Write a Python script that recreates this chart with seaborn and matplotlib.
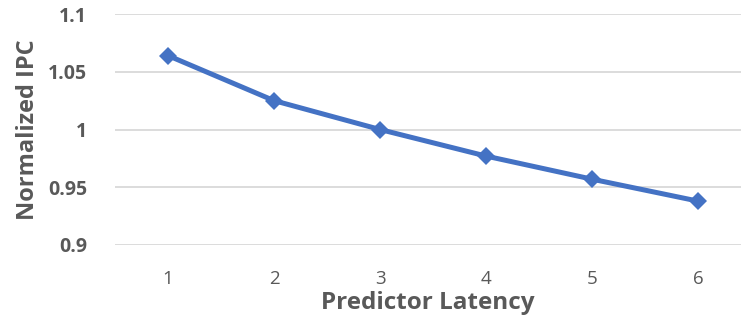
import matplotlib
matplotlib.use("Agg")
import matplotlib.pyplot as plt
import seaborn as sns
import pandas as pd

latency = [1, 2, 3, 4, 5, 6]
normalized_ipc = [1.064, 1.025, 1.000, 0.977, 0.957, 0.938]
y_ticks = [0.9, 0.95, 1.0, 1.05, 1.1]
y_tick_labels = ["0.9", "0.95", "1", "1.05", "1.1"]

df = pd.DataFrame({"Predictor Latency": latency, "Normalized IPC": normalized_ipc})

sns.set_theme(style="white")
plt.rcParams["font.family"] = ["Open Sans", "DejaVu Sans"]

fig = plt.figure(figsize=(7.41, 3.24), dpi=100)
ax = fig.add_axes([115/741, 1 - 245/324, 1 - 115/741, (245 - 14)/324])

sns.lineplot(data=df, x="Predictor Latency", y="Normalized IPC", ax=ax,
             color="#4472C4", linewidth=3.6, marker="D", markersize=9.5,
             markeredgewidth=0, zorder=3)

ax.set_ylim(0.9, 1.1)
ax.set_xlim(0.5, 6.5 - 10/106)
ax.set_yticks(y_ticks)
ax.set_yticklabels(y_tick_labels)
ax.set_xticks(latency)
ax.set_xticklabels([str(v) for v in latency])
ax.yaxis.grid(True, color="#D9D9D9", linewidth=1.3, zorder=0)
ax.xaxis.grid(False)
for s in ax.spines.values():
    s.set_visible(False)
ax.tick_params(axis="both", length=0)
ax.tick_params(axis="y", pad=20, labelsize=14, labelcolor="#595959")
ax.tick_params(axis="x", pad=18, labelsize=13.5, labelcolor="#595959")
for lbl in ax.get_yticklabels():
    lbl.set_fontweight("bold")

ax.set_xlabel("Predictor Latency", fontsize=17.5, fontweight="bold", color="#595959", labelpad=2)
ax.set_ylabel("Normalized IPC", fontsize=17, fontweight="bold", color="#595959", labelpad=6)

fig.savefig("out.png", dpi=100)
